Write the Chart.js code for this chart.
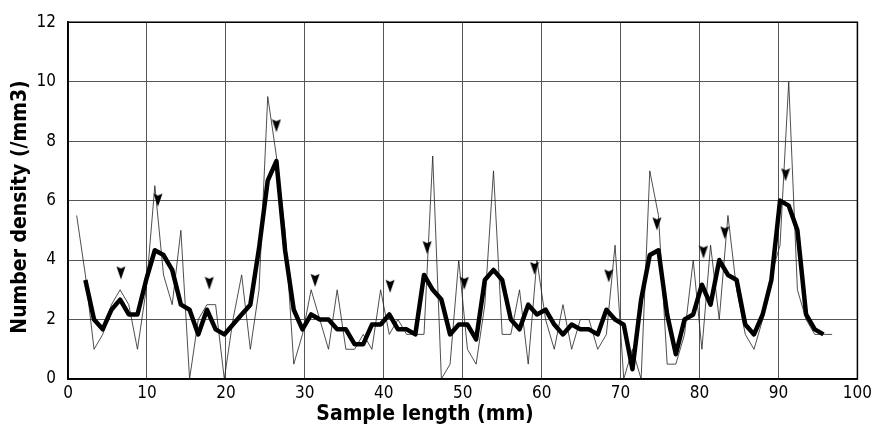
<!DOCTYPE html>
<html>
<head>
<meta charset="utf-8">
<script src="https://cdn.jsdelivr.net/npm/chart.js@4.4.1/dist/chart.umd.min.js"></script>
<style>
    html, body { margin: 0; padding: 0; background: #fff; }
    #wrap { width: 876px; height: 436px; }
</style>
</head>
<body>
<div id="wrap"><canvas id="chart" width="876" height="436"></canvas></div>
<script>
// Sections are cut every 1.1 mm along the sample
const sectionStart = 1.1;
const sectionStep = 1.1;

// Raw number density per section (/mm3)
const rawDensity = [
    5.5, 3.5, 1, 1.5, 2.5, 3, 2.5, 1, 3, 6.5,
    3.5, 2.5, 5, 0, 2, 2.5, 2.5, 0, 2, 3.5,
    1, 3, 9.5, 7.5, 5, 0.5, 1.5, 3, 2, 1,
    3, 1, 1, 1.5, 1, 3, 1.5, 2, 1.5, 1.5,
    1.5, 7.5, 0, 0.5, 4, 1, 0.5, 2.5, 7, 1.5,
    1.5, 3, 0.5, 4, 2, 1, 2.5, 1, 2, 2,
    1, 1.5, 4.5, 0, 1, 0, 7, 5.5, 0.5, 0.5,
    1.5, 4, 1, 4.5, 2, 5.5, 3, 1.5, 1, 2,
    3.5, 4.5, 10, 3, 2, 1.5, 1.5, 1.5
];

// Smoothed curve (3-section average), starts at the 2nd section
const smoothDensity = [
    3.33, 2.0, 1.67, 2.33, 2.67, 2.17, 2.17, 3.33, 4.33, 4.17,
    3.67, 2.5, 2.33, 1.5, 2.33, 1.67, 1.5, 1.83, 2.17, 2.5,
    4.4, 6.67, 7.33, 4.33, 2.33, 1.67, 2.17, 2.0, 2.0, 1.67,
    1.67, 1.17, 1.17, 1.83, 1.83, 2.17, 1.67, 1.67, 1.5, 3.5,
    3.0, 2.67, 1.5, 1.83, 1.83, 1.33, 3.33, 3.67, 3.33, 2.0,
    1.67, 2.5, 2.17, 2.33, 1.83, 1.5, 1.83, 1.67, 1.67, 1.5,
    2.33, 2.0, 1.83, 0.33, 2.67, 4.17, 4.33, 2.17, 0.83, 2.0,
    2.17, 3.17, 2.5, 4.0, 3.5, 3.33, 1.83, 1.5, 2.17, 3.33,
    6.0, 5.83, 5.0, 2.17, 1.67, 1.5
];

// Arrow marks (tip position)
const arrowX = [6.7, 11.4, 17.9, 26.4, 31.3, 40.8, 45.5, 50.2, 59.1, 68.5, 74.6, 80.5, 83.2, 90.9];
const arrowY = [3.35, 5.8, 3.0, 8.3, 3.1, 2.9, 4.2, 3.0, 3.5, 3.25, 5.0, 4.05, 4.7, 6.65];

const xTicks = [0, 10, 20, 30, 40, 50, 60, 70, 80, 90, 100];
const yTicks = [0, 2, 4, 6, 8, 10, 12];

const tickFont = '"Liberation Sans Narrow", "DejaVu Sans Condensed", "Liberation Sans", sans-serif';

const rawPoints = rawDensity.map((v, i) => ({ x: sectionStart + sectionStep * i, y: v }));
const smoothPoints = smoothDensity.map((v, i) => ({ x: sectionStart + sectionStep * (i + 1), y: v }));
const arrowPoints = arrowX.map((x, i) => ({ x: x, y: arrowY[i] }));

// arrow head sprite, tip sits at the canvas centre
function makeArrow() {
    const c = document.createElement('canvas');
    c.width = 10;
    c.height = 28;
    const g = c.getContext('2d');
    g.fillStyle = '#000';
    g.beginPath();
    g.moveTo(0.5, 1);
    g.lineTo(5, 3);
    g.lineTo(9.5, 1);
    g.lineTo(5, 14);
    g.closePath();
    g.fill();
    return c;
}

const titlesAndBox = {
    id: 'titlesAndBox',
    afterDraw(chart) {
        const ctx = chart.ctx;
        const a = chart.chartArea;
        ctx.save();
        ctx.strokeStyle = '#000';
        ctx.lineWidth = 1.5;
        ctx.strokeRect(a.left, a.top, a.right - a.left, a.bottom - a.top);

        ctx.fillStyle = '#000';
        ctx.font = 'bold 21px "Liberation Sans Narrow", "DejaVu Sans Condensed", "Liberation Sans", sans-serif';
        ctx.textAlign = 'center';
        ctx.textBaseline = 'middle';
        ctx.fillText('Sample length (mm)', 425, 415);

        ctx.translate(21, 207);
        ctx.rotate(-Math.PI / 2);
        ctx.fillText('Number density (/mm3)', 0, 0);
        ctx.restore();
    }
};

const ctx = document.getElementById('chart').getContext('2d');
new Chart(ctx, {
    type: 'line',
    data: {
        datasets: [{
            label: 'raw',
            data: rawPoints,
            borderColor: '#222',
            borderWidth: 0.8,
            pointRadius: 0,
            tension: 0,
            order: 2
        }, {
            label: 'smooth',
            data: smoothPoints,
            borderColor: '#000',
            borderWidth: 4.5,
            borderJoinStyle: 'round',
            pointRadius: 0,
            tension: 0,
            order: 1
        }, {
            label: 'arrows',
            type: 'scatter',
            data: arrowPoints,
            pointStyle: makeArrow(),
            pointRadius: 7,
            showLine: false,
            order: 0
        }]
    },
    options: {
        responsive: false,
        animation: false,
        devicePixelRatio: 1,
        layout: { padding: { top: 15, right: 18, bottom: 0, left: 0 } },
        plugins: {
            legend: { display: false },
            tooltip: { enabled: false }
        },
        scales: {
            x: {
                type: 'linear',
                min: 0,
                max: 100,
                afterBuildTicks: axis => { axis.ticks = xTicks.map(v => ({ value: v })); },
                afterFit: axis => { axis.height = 57; },
                ticks: {
                    color: '#000',
                    padding: 4,
                    font: { family: tickFont, size: 17 }
                },
                grid: { color: '#555', lineWidth: 1, drawTicks: false },
                border: { color: '#000', width: 1.5 }
            },
            y: {
                min: 0,
                max: 12,
                afterBuildTicks: axis => { axis.ticks = yTicks.map(v => ({ value: v })); },
                afterFit: axis => { axis.width = 68; },
                ticks: {
                    color: '#000',
                    padding: 12,
                    font: { family: tickFont, size: 17 }
                },
                grid: { color: '#555', lineWidth: 1, drawTicks: false },
                border: { color: '#000', width: 1.5 }
            }
        }
    },
    plugins: [titlesAndBox]
});
</script>
</body>
</html>
